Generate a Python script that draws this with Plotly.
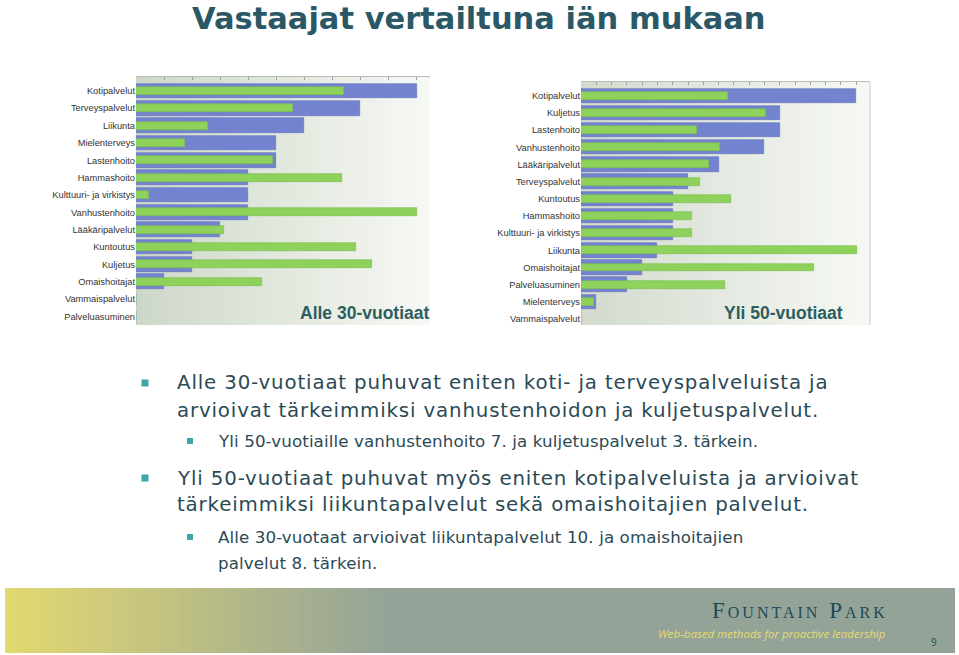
import plotly.graph_objects as go

# ---------------- data ----------------
left_categories = ["Kotipalvelut", "Terveyspalvelut", "Liikunta", "Mielenterveys", "Lastenhoito",
                   "Hammashoito", "Kulttuuri- ja virkistys", "Vanhustenhoito", "Lääkäripalvelut",
                   "Kuntoutus", "Kuljetus", "Omaishoitajat", "Vammaispalvelut", "Palveluasuminen"]
left_mentions = [10, 8, 6, 5, 5, 4, 4, 4, 3, 2, 2, 1, 0, 0]
left_importance = [7.4, 5.6, 2.55, 1.75, 4.87, 7.35, 0.46, 10.03, 3.15, 7.85, 8.4, 4.5, 0, 0]

right_categories = ["Kotipalvelut", "Kuljetus", "Lastenhoito", "Vanhustenhoito", "Lääkäripalvelut",
                    "Terveyspalvelut", "Kuntoutus", "Hammashoito", "Kulttuuri- ja virkistys", "Liikunta",
                    "Omaishoitajat", "Palveluasuminen", "Mielenterveys", "Vammaispalvelut"]
right_mentions = [18, 13, 13, 12, 9, 7, 6, 6, 6, 5, 4, 3, 1, 0]
right_importance = [9.6, 12.1, 7.6, 9.08, 8.34, 7.78, 9.8, 7.23, 7.28, 18.04, 15.23, 9.43, 0.83, 0]

W, H = 959, 655
BLUE = "#7383cf"
BLUE_LINE = "#5f6fbf"
GREEN = "#8ed25c"
GREEN_LINE = "#77bb48"
TEXT = "#2b4a55"

def px(x):
    return x / W

def py(y):
    return 1 - y / H

fig = go.Figure()

fig.add_trace(go.Bar(y=left_categories, x=left_mentions, orientation="h", width=0.84,
                     marker=dict(color=BLUE, line=dict(color=BLUE_LINE, width=0.6)),
                     xaxis="x", yaxis="y", hoverinfo="x+y", showlegend=False))
fig.add_trace(go.Bar(y=left_categories, x=left_importance, orientation="h", width=0.46,
                     marker=dict(color=GREEN, line=dict(color=GREEN_LINE, width=0.6)),
                     xaxis="x", yaxis="y", hoverinfo="x+y", showlegend=False))
fig.add_trace(go.Bar(y=right_categories, x=right_mentions, orientation="h", width=0.84,
                     marker=dict(color=BLUE, line=dict(color=BLUE_LINE, width=0.6)),
                     xaxis="x2", yaxis="y2", hoverinfo="x+y", showlegend=False))
fig.add_trace(go.Bar(y=right_categories, x=right_importance, orientation="h", width=0.46,
                     marker=dict(color=GREEN, line=dict(color=GREEN_LINE, width=0.6)),
                     xaxis="x2", yaxis="y2", hoverinfo="x+y", showlegend=False))

shapes = []

def gradient(x0, x1, y0, y1, c0, c1, n=40, xstop=None):
    xs = x1 if xstop is None else xstop
    step = (xs - x0) / n
    for i in range(n):
        t = i / (n - 1)
        c = tuple(int(round(c0[k] + (c1[k] - c0[k]) * t)) for k in range(3))
        a = x0 + i * step
        b = a + step + 0.6
        shapes.append(dict(type="rect", xref="paper", yref="paper", layer="below",
                           x0=px(a), x1=px(min(b, x1)), y0=py(y1), y1=py(y0),
                           fillcolor="rgb(%d,%d,%d)" % c, line=dict(width=0)))
    if xs < x1:
        shapes.append(dict(type="rect", xref="paper", yref="paper", layer="below",
                           x0=px(xs), x1=px(x1), y0=py(y1), y1=py(y0),
                           fillcolor="rgb(%d,%d,%d)" % tuple(c1), line=dict(width=0)))

# plot-area backgrounds
L = (136, 430, 77, 325)
R = (581, 870, 82, 325)
gradient(L[0], L[1], L[2], L[3], (206, 216, 201), (246, 248, 244))
gradient(R[0], R[1], R[2], R[3], (210, 219, 206), (246, 248, 244))
shapes.append(dict(type="line", xref="paper", yref="paper", x0=px(870), x1=px(870),
                   y0=py(325), y1=py(82), line=dict(color="#c8ccc8", width=1)))
# footer band
gradient(5, 955, 588, 653, (226, 216, 112), (148, 163, 152), n=60, xstop=390)

# bullets
for (bx, by, s) in [(145, 383, 7), (145, 478, 7), (190, 441, 6), (190, 537, 6)]:
    shapes.append(dict(type="rect", xref="paper", yref="paper",
                       x0=px(bx - s / 2), x1=px(bx + s / 2), y0=py(by + s / 2), y1=py(by - s / 2),
                       fillcolor="#3aa6a6", line=dict(width=0)))

axis_common = dict(showgrid=False, zeroline=False, showticklabels=False, side="top",
                   ticks="inside", ticklen=3, tickcolor="#a0a4a0", showline=True,
                   linecolor="#b8bcb8", linewidth=1, dtick=1, tick0=0)
ycommon = dict(showgrid=False, zeroline=False, ticks="", showline=False,
               tickfont=dict(family="Liberation Sans, Arial", size=9.3, color="#333333"))

annotations = []

def ann(text, x, y, size, color=TEXT, family="DejaVu Sans", xanchor="left", yanchor="middle",
        variant="normal", spacing=None):
    if spacing is not None:
        text = "<span style='letter-spacing:%.2fpx'>%s</span>" % (spacing, text)
    annotations.append(dict(text=text, x=px(x), y=py(y), xref="paper", yref="paper",
                            xanchor=xanchor, yanchor=yanchor, showarrow=False,
                            font=dict(family=family, size=size, color=color, variant=variant)))

ann("<b>Vastaajat vertailtuna iän mukaan</b>", 479, 18, 30.5, color="#2b5866",
    family="DejaVu Sans", xanchor="center")
ann("<b>Alle 30-vuotiaat</b>", 432, 313, 17.5, color="#2d5e5e",
    family="Liberation Sans, Arial", xanchor="right")
ann("<b>Yli 50-vuotiaat</b>", 845, 313, 17.5, color="#2d5e5e",
    family="Liberation Sans, Arial", xanchor="right")

MAIN, SUB = 19.8, 16.7
ann("Alle 30-vuotiaat puhuvat eniten koti- ja terveyspalveluista ja", 175, 383, MAIN, spacing=0.85)
ann("arvioivat tärkeimmiksi vanhustenhoidon ja kuljetuspalvelut.", 175, 410, MAIN, spacing=0.85)
ann("Yli 50-vuotiaille vanhustenhoito 7. ja kuljetuspalvelut 3. tärkein.", 216, 441, SUB, spacing=0.1)
ann("Yli 50-vuotiaat puhuvat myös eniten kotipalveluista ja arvioivat", 175, 478, MAIN, spacing=0.85)
ann("tärkeimmiksi liikuntapalvelut sekä omaishoitajien palvelut.", 175, 505, MAIN, spacing=0.85)
ann("Alle 30-vuotaat arvioivat liikuntapalvelut 10. ja omaishoitajien", 216, 537, SUB, spacing=0.1)
ann("palvelut 8. tärkein.", 216, 563, SUB, spacing=0.1)

ann("Fountain Park", 890, 610, 23, color="#1d4a55", family="Liberation Serif",
    xanchor="right", variant="small-caps", spacing=3.0)
ann("<i>Web-based methods for proactive leadership</i>", 888, 633, 11.5, color="#e6dc6e",
    family="Open Sans", xanchor="right")
ann("9", 934, 642, 10, color="#2b4a55", family="Open Sans", xanchor="center")

fig.update_layout(
    width=W, height=H, margin=dict(l=0, r=0, t=0, b=0),
    paper_bgcolor="white", plot_bgcolor="rgba(0,0,0,0)",
    barmode="overlay", bargap=0, showlegend=False,
    xaxis=dict(domain=[px(L[0]), px(L[1])], range=[0, 10.48], anchor="y", **axis_common),
    yaxis=dict(domain=[py(L[3]), py(L[2])], range=[13.5, -0.8], anchor="x", **ycommon),
    xaxis2=dict(domain=[px(R[0]), px(R[1])], range=[0, 18.9], anchor="y2", **axis_common),
    yaxis2=dict(domain=[py(R[3]), py(R[2])], range=[13.35, -0.8], anchor="x2", **ycommon),
    shapes=shapes, annotations=annotations,
)

fig.write_html("out.html")
